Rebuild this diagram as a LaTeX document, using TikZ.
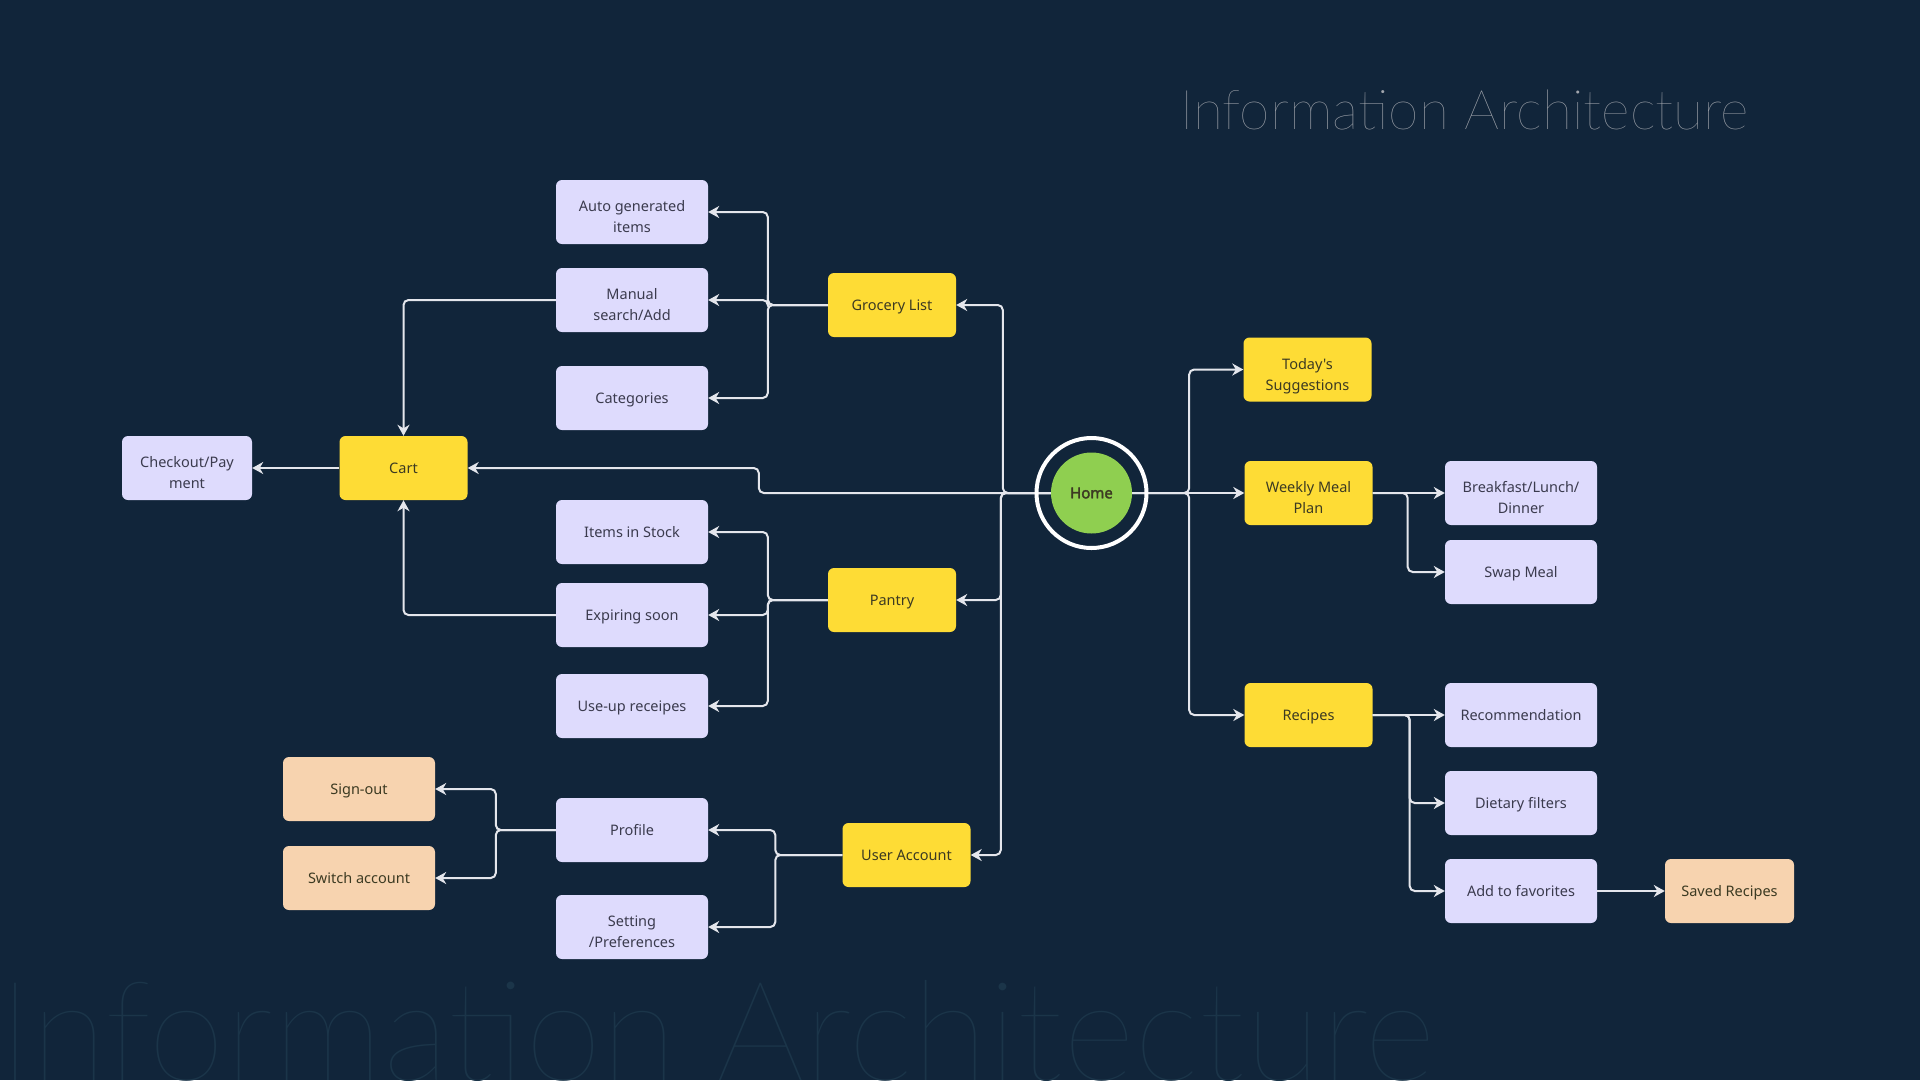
\documentclass[tikz,border=0pt]{standalone}
\usepackage{fontspec}
\usetikzlibrary{arrows.meta}
\newfontfamily\nodefont{Noto Sans}
\newfontfamily\homefont{Noto Sans}[FakeBold=2.2]
\IfFontExistsTF{Lato Thin}{\newfontfamily\titlefont{Lato Thin}}{%
  \IfFontExistsTF{Lato Light}{\newfontfamily\titlefont{Lato Light}}{\newfontfamily\titlefont{Lato}}}
% text lowered inside the box without changing the box size
\newcommand\boxtxt[2][1.5pt]{\raisebox{-#1}[\height][\depth]{\begin{tabular}{@{}c@{}}#2\end{tabular}}}
\definecolor{bgc}{HTML}{11253A}
\definecolor{titlec}{HTML}{A2A6AD}
\definecolor{wmc}{HTML}{1B3549}
\definecolor{lav}{HTML}{DEDBFD}
\definecolor{yel}{HTML}{FEDC35}
\definecolor{peach}{HTML}{F7D3AF}
\definecolor{grn}{HTML}{8FCF50}
\definecolor{linec}{HTML}{E4E6EC}
\definecolor{txt}{HTML}{3B3B4E}
\definecolor{ytxt}{HTML}{3C3A22}
\tikzset{
  boxbase/.style={rectangle, rounded corners=6pt, minimum height=64pt,
    inner sep=2pt, font=\nodefont\fontsize{14.5}{21}\selectfont},
  lavbox/.style={boxbase, fill=lav, text=txt, minimum width=152pt},
  yelbox/.style={boxbase, fill=yel, text=ytxt, minimum width=128pt},
  peachbox/.style={boxbase, fill=peach, text=ytxt, minimum width=152pt},
  conn/.style={draw=linec, line width=2pt, rounded corners=5pt,
    -{Stealth[length=11pt,width=12pt,inset=3.5pt]}},
}
\begin{document}
\begin{tikzpicture}[x=1pt,y=-1pt]
\fill[bgc] (0,0) rectangle (1920,1080);
\useasboundingbox (0,0) rectangle (1920,1080);

% watermark and title
\node[anchor=base west, inner sep=0, text=wmc, font=\titlefont\fontsize{139}{139}\selectfont] (wm) at (-2,1080) {Information Architecture};
\node[anchor=base west, inner sep=0, text=titlec, font=\titlefont\fontsize{55}{55}\selectfont] (title) at (1180,129) {Information Architecture};

% nodes
\node[lavbox] (auto) at (632,212) {\boxtxt[6pt]{Auto generated\\items}};
\node[lavbox] (manual) at (632,300) {\boxtxt[6pt]{Manual\\search/Add}};
\node[lavbox] (cat) at (632,398) {\boxtxt{Categories}};
\node[yelbox] (grocery) at (892,305) {\boxtxt{Grocery List}};
\node[yelbox] (cart) at (403.5,468) {\boxtxt{Cart}};
\node[lavbox, minimum width=130pt] (checkout) at (187,468) {\boxtxt[6pt]{Checkout/Pay\\ment}};
\node[lavbox] (stock) at (632,532) {\boxtxt{Items in Stock}};
\node[lavbox] (expiring) at (632,615) {\boxtxt{Expiring soon}};
\node[lavbox] (useup) at (632,706) {\boxtxt{Use-up receipes}};
\node[yelbox] (pantry) at (892,600) {\boxtxt{Pantry}};
\node[peachbox] (signout) at (359,789) {\boxtxt{Sign-out}};
\node[peachbox] (switch) at (359,878) {\boxtxt{Switch account}};
\node[lavbox] (profile) at (632,830) {\boxtxt{Profile}};
\node[lavbox] (setting) at (632,927) {\boxtxt[6pt]{Setting\\/Preferences}};
\node[yelbox] (user) at (906.5,855) {\boxtxt{User Account}};

\node[circle, fill=grn, minimum size=81pt, inner sep=0, text=ytxt,
  font=\homefont\fontsize{15}{18}\selectfont] (home) at (1091.5,493) {Home};

\node[yelbox] (today) at (1307.5,369.5) {\boxtxt[6pt]{Today's\\Suggestions}};
\node[yelbox] (weekly) at (1308.5,493) {\boxtxt[6pt]{Weekly Meal\\Plan}};
\node[lavbox] (breakfast) at (1521,493) {\boxtxt[6pt]{Breakfast/Lunch/\\Dinner}};
\node[lavbox] (swap) at (1521,572) {\boxtxt{Swap Meal}};
\node[yelbox] (recipes) at (1308.5,715) {\boxtxt{Recipes}};
\node[lavbox] (recomm) at (1521,715) {\boxtxt{Recommendation}};
\node[lavbox] (dietary) at (1521,803) {\boxtxt{Dietary filters}};
\node[lavbox] (fav) at (1521,891) {\boxtxt{Add to favorites}};
\node[peachbox, minimum width=129pt] (saved) at (1729.5,891) {\boxtxt{Saved Recipes}};

% connectors from home (left)
\draw[conn] (home.west) -- ++(-48,0) |- (grocery.east);
\draw[conn] (home.west) -- ++(-50,0) |- (pantry.east);
\draw[conn] (home.west) -- ++(-50,0) |- (user.east);
\draw[conn] (home.west) -- ++(-292,0) |- (cart.east);

% grocery
\draw[conn] (grocery.west) -- ++(-60,0) |- (auto.east);
\draw[conn] (grocery.west) -- ++(-60,0) |- (manual.east);
\draw[conn] (grocery.west) -- ++(-60,0) |- (cat.east);
\draw[conn] (manual.west) -| (cart.north);
\draw[conn] (cart.west) -- (checkout.east);

% pantry
\draw[conn] (pantry.west) -- ++(-60,0) |- (stock.east);
\draw[conn] (pantry.west) -- ++(-60,0) |- (expiring.east);
\draw[conn] (pantry.west) -- ++(-60,0) |- (useup.east);
\draw[conn] (expiring.west) -| (cart.south);

% user account
\draw[conn] (user.west) -- ++(-67,0) |- (profile.east);
\draw[conn] (user.west) -- ++(-67,0) |- (setting.east);
\draw[conn] (profile.west) -- ++(-60,0) |- (signout.east);
\draw[conn] (profile.west) -- ++(-60,0) |- (switch.east);

% right side
\draw[conn] (home.east) -- ++(57,0) |- (today.west);
\draw[conn] (home.east) -- (weekly.west);
\draw[conn] (home.east) -- ++(57,0) |- (recipes.west);
\draw[conn] (weekly.east) -- (breakfast.west);
\draw[conn] (weekly.east) -- ++(35,0) |- (swap.west);
\draw[conn] (recipes.east) -- (recomm.west);
\draw[conn] (recipes.east) -- ++(37,0) |- (dietary.west);
\draw[conn] (recipes.east) -- ++(37,0) |- (fav.west);
\draw[conn] (fav.east) -- (saved.west);

% home ring
\node[circle, draw=white, line width=4pt, minimum size=110pt, inner sep=0] (ring) at (home) {};
\end{tikzpicture}
\end{document}
